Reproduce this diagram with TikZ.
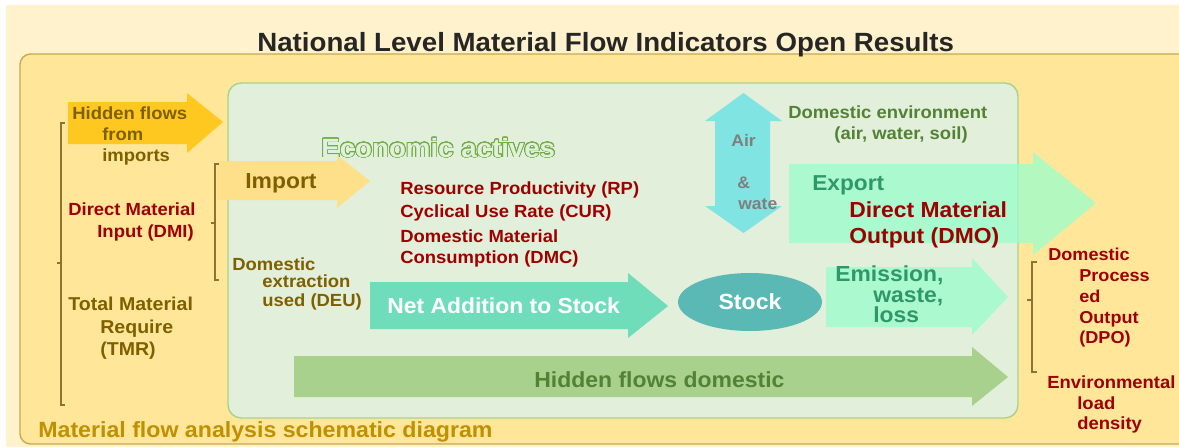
\documentclass[tikz,border=0pt]{standalone}
\usepackage{fontspec}
\setmainfont{Liberation Sans}
\newfontfamily\widesans[FakeStretch=1.05]{Liberation Sans}
\usepackage[copies]{contour}
\usetikzlibrary{shapes}
\contourlength{0.45pt}
\contournumber{32}
\definecolor{creambg}{HTML}{FFF2CC}
\definecolor{outerfill}{HTML}{FFE699}
\definecolor{outerline}{HTML}{C9A852}
\definecolor{innerfill}{HTML}{E2EFDA}
\definecolor{innerline}{HTML}{A9D18E}
\definecolor{brownt}{HTML}{7F6000}
\definecolor{redt}{HTML}{9E0000}
\definecolor{greent}{HTML}{548235}
\definecolor{tealt}{HTML}{2E9966}
\definecolor{grayt}{HTML}{7F7F7F}
\definecolor{goldt}{HTML}{BF9000}
\definecolor{titlet}{HTML}{262626}
\definecolor{hidimpc}{HTML}{FFC820}
\definecolor{importc}{HTML}{FFE08A}
\definecolor{airc}{HTML}{80E4E2}
\definecolor{mintc}{HTML}{99FFCC}
\definecolor{netc}{HTML}{6FDDB9}
\definecolor{stockc}{HTML}{5BB9B5}
\definecolor{econline}{HTML}{70AD47}
\definecolor{bracketc}{HTML}{8C7330}
\newcommand{\fsz}[1]{\widesans\fontsize{#1}{#1}\selectfont\bfseries}
\tikzstyle{lbl}=[inner sep=0pt,anchor=base west]
\tikzstyle{lblbrown}=[lbl,text=brownt]
\tikzstyle{lblred}=[lbl,text=redt]
\tikzstyle{lblgreen}=[lbl,text=greent]
\tikzstyle{lblteal}=[lbl,text=tealt]
\tikzstyle{lblgray}=[lbl,text=grayt]
\tikzstyle{bracket}=[draw=bracketc,line width=0.6pt]
\tikzstyle{mintarrow}=[fill=mintc,fill opacity=0.75]

\begin{document}
\begin{tikzpicture}[x=0.02cm,y=-0.02cm]
    \useasboundingbox (0,0) rectangle (1179,447);
    \fill[white] (0,0) rectangle (1179,447);
    \fill[creambg] (6,5) rectangle (1179,447);

    % frames
    \draw[fill=outerfill,draw=outerline,line width=0.8pt,rounded corners=6pt] (20,54) rectangle (1195,444);
    \draw[fill=innerfill,draw=innerline,line width=0.8pt,rounded corners=7.5pt] (228,83) rectangle (1018,418);

    \node[lbl,text=titlet,font=\fsz{15}] (title) at (257,51) {National Level Material Flow Indicators Open Results};

    % flow arrows
    \fill[hidimpc] (68,102) -- (187,102) -- (187,93) -- (223,122) -- (187,153) -- (187,144) -- (68,144) -- cycle;
    \fill[importc] (217,161) -- (337,161) -- (337,155) -- (370,181) -- (337,208) -- (337,200) -- (217,200) -- cycle;
    \fill[airc] (715,121) -- (705,121) -- (743.5,93) -- (782,121) -- (770,121) -- (770,206) -- (782,206) -- (743.5,233) -- (705,206) -- (715,206) -- cycle;
    \fill[mintarrow] (789,164) -- (1033,164) -- (1033,152) -- (1096,203) -- (1033,255) -- (1033,243) -- (789,243) -- cycle;
    \fill[netc] (370,282) -- (628,282) -- (628,273) -- (668,306) -- (628,338) -- (628,329) -- (370,329) -- cycle;
    \fill[mintarrow] (826,267) -- (972,267) -- (972,258) -- (1008,297) -- (972,335) -- (972,327) -- (826,327) -- cycle;
    \fill[innerline] (294,356) -- (972,356) -- (972,347) -- (1008,377) -- (972,406) -- (972,397) -- (294,397) -- cycle;

    \node[ellipse,fill=stockc,minimum width=2.88cm,minimum height=1.16cm,inner sep=0pt,text=white,font=\fsz{12.5}] (stock) at (750,302) {Stock};

    % brackets
    \draw[bracket] (65,123) -- (61,123) -- (61,405) -- (65,405);
    \draw[bracket] (61,263) -- (57,263);
    \draw[bracket] (219,164) -- (215,164) -- (215,280) -- (219,280);
    \draw[bracket] (215,223) -- (211,223);
    \draw[bracket] (1037,262) -- (1032,262) -- (1032,372) -- (1037,372);
    \draw[bracket] (1032,300) -- (1027,300);

    % left labels
    \node[lblbrown,font=\fsz{10}] (hfi1) at (72,119) {Hidden flows};
    \node[lblbrown,font=\fsz{10}] (hfi2) at (102,140) {from};
    \node[lblbrown,font=\fsz{10}] (hfi3) at (102,161) {imports};
    \node[lblred,font=\fsz{10}] (dmi1) at (68,215) {Direct Material};
    \node[lblred,font=\fsz{10}] (dmi2) at (97,237) {Input (DMI)};
    \node[lblbrown,font=\fsz{10.6}] (tmr1) at (68,310) {Total Material};
    \node[lblbrown,font=\fsz{10.6}] (tmr2) at (100,333) {Require};
    \node[lblbrown,font=\fsz{10.6}] (tmr3) at (100,355) {(TMR)};
    \node[lblbrown,font=\fsz{12.4}] (imp) at (245,188) {Import};
    \node[lblbrown,font=\fsz{10}] (deu1) at (232,270) {Domestic};
    \node[lblbrown,font=\fsz{10}] (deu2) at (262,287) {extraction};
    \node[lblbrown,font=\fsz{10}] (deu3) at (262,306) {used (DEU)};

    % middle labels
    \node[lbl,font=\fsz{15}] (econ) at (321,157) {\contour{econline}{\textcolor{innerfill}{Economic actives}}};
    \node[lblred,font=\fsz{10}] (rp) at (400,194) {Resource Productivity (RP)};
    \node[lblred,font=\fsz{10}] (cur) at (400,217) {Cyclical Use Rate (CUR)};
    \node[lblred,font=\fsz{10}] (dmc1) at (400,242) {Domestic Material};
    \node[lblred,font=\fsz{10}] (dmc2) at (400,263) {Consumption (DMC)};
    \node[lbl,text=white,font=\fsz{12.4}] (nas) at (387,313) {Net Addition to Stock};
    \node[lblgreen,font=\fsz{12.45}] (hfd) at (534,387) {Hidden flows domestic};

    \node[lblgray,font=\fsz{9.5}] (air1) at (731,146) {Air};
    \node[lblgray,font=\fsz{9.5}] (air2) at (737,188) {\&};
    \node[lblgray,font=\fsz{9.5}] (air3) at (738,209) {wate};
    \node[lblgreen,font=\fsz{10}] (env1) at (788,118) {Domestic environment};
    \node[lblgreen,font=\fsz{10}] (env2) at (834,139) {(air, water, soil)};
    \node[lblteal,font=\fsz{12.3}] (exp) at (812,190) {Export};
    \node[lblred,font=\fsz{12.4}] (dmo1) at (849,217) {Direct Material};
    \node[lblred,font=\fsz{12.4}] (dmo2) at (849,243) {Output (DMO)};
    \node[lblteal,font=\fsz{12.4}] (ewl1) at (835,281) {Emission,};
    \node[lblteal,font=\fsz{12.4}] (ewl2) at (873,302) {waste,};
    \node[lblteal,font=\fsz{12.4}] (ewl3) at (873,322) {loss};

    % right labels
    \node[lblred,font=\fsz{9.8}] (dpo1) at (1048,260) {Domestic};
    \node[lblred,font=\fsz{9.8}] (dpo2) at (1079,281) {Process};
    \node[lblred,font=\fsz{9.8}] (dpo3) at (1079,302) {ed};
    \node[lblred,font=\fsz{9.8}] (dpo4) at (1079,323) {Output};
    \node[lblred,font=\fsz{9.8}] (dpo5) at (1079,343) {(DPO)};
    \node[lblred,font=\fsz{10}] (eld1) at (1047,388) {Environmental};
    \node[lblred,font=\fsz{10}] (eld2) at (1077,409) {load};
    \node[lblred,font=\fsz{10}] (eld3) at (1077,429) {density};

    \node[lbl,text=goldt,font=\fsz{12.55}] (mfa) at (38,437) {Material flow analysis schematic diagram};
\end{tikzpicture}
\end{document}
